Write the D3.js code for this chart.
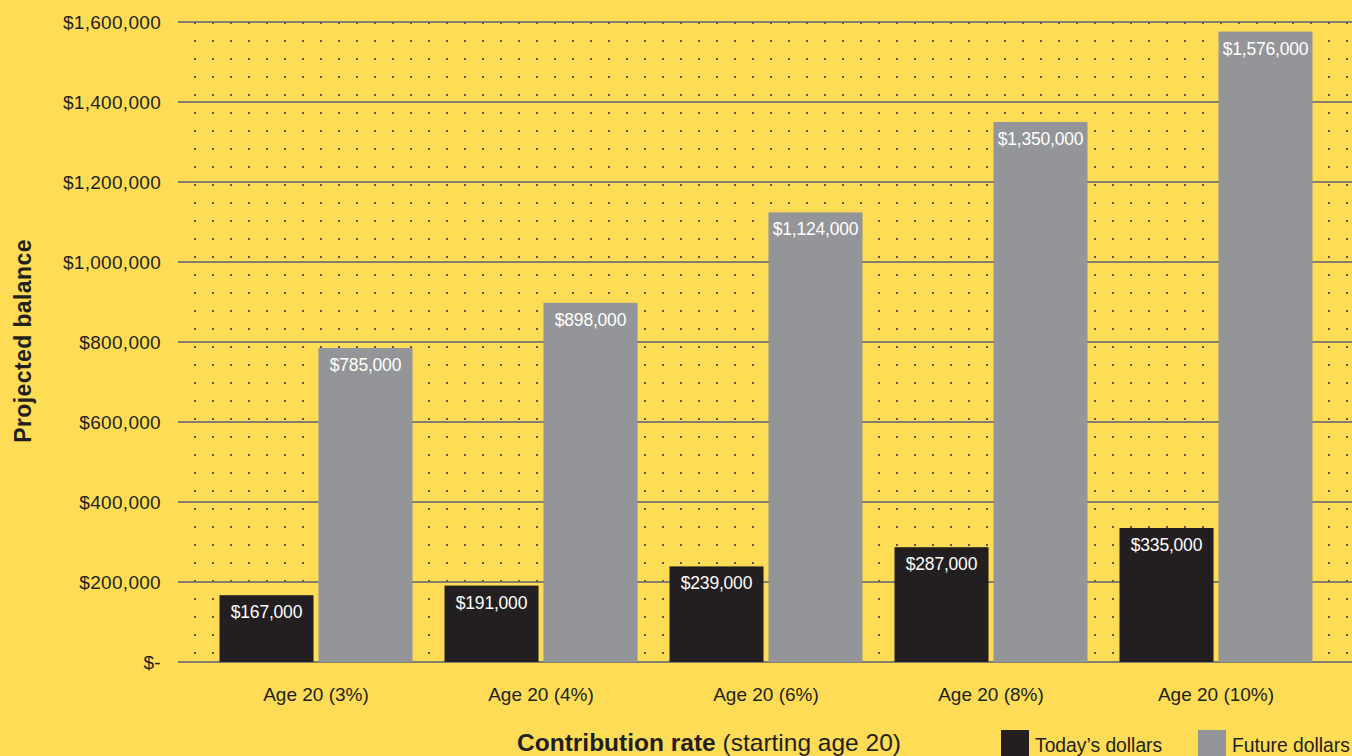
<!DOCTYPE html>
<html>
<head>
<meta charset="utf-8">
<script src="https://cdn.jsdelivr.net/npm/d3@7"></script>
<style>
  html, body { margin: 0; padding: 0; background: #FEDC55; }
  svg { display: block; font-family: "Liberation Sans", Arial, sans-serif; }
</style>
</head>
<body>
<svg id="chart" width="1352" height="756"></svg>
<script>
const categories = ["Age 20 (3%)", "Age 20 (4%)", "Age 20 (6%)", "Age 20 (8%)", "Age 20 (10%)"];
const seriesNames = ["Today\u2019s dollars", "Future dollars"];
const todaysDollars = [167000, 191000, 239000, 287000, 335000];
const futureDollars = [785000, 898000, 1124000, 1350000, 1576000];
const yTicks = [0, 200000, 400000, 600000, 800000, 1000000, 1200000, 1400000, 1600000];
const colors = ["#231F20", "#939598"];

const svg = d3.select("#chart");
const W = 1352, H = 756;
const plot = { left: 178, right: 1352, top: 22, bottom: 662 };

svg.append("rect").attr("width", W).attr("height", H).attr("fill", "#FEDC55");

// dotted background pattern
const defs = svg.append("defs");
const pat = defs.append("pattern")
  .attr("id", "dots").attr("patternUnits", "userSpaceOnUse")
  .attr("x", 176).attr("y", 22).attr("width", 18).attr("height", 18);
pat.append("rect").attr("x", 0).attr("y", 0).attr("width", 2).attr("height", 2).attr("fill", "#5e5846");
svg.append("rect")
  .attr("x", plot.left).attr("y", plot.top)
  .attr("width", plot.right - plot.left).attr("height", plot.bottom - plot.top)
  .attr("fill", "url(#dots)");

const y = d3.scaleLinear().domain([0, 1600000]).range([plot.bottom, plot.top]);
const x0 = d3.scaleBand().domain(categories).range([203.5, 1328.5]).paddingInner(0.1422).paddingOuter(0.0711);
const x1 = d3.scaleBand().domain(seriesNames).range([0, x0.bandwidth()]).paddingInner(0.05);

// gridlines
svg.append("g").selectAll("line").data(yTicks).join("line")
  .attr("x1", plot.left).attr("x2", plot.right)
  .attr("y1", d => y(d)).attr("y2", d => y(d))
  .attr("stroke", "#5b6275").attr("stroke-width", 1.6);

// y tick labels
const fmt = d => d === 0 ? "$-" : "$" + d3.format(",")(d);
svg.append("g").selectAll("text").data(yTicks).join("text")
  .attr("x", 161).attr("y", d => y(d) + 7)
  .attr("text-anchor", "end").attr("font-size", 19).attr("fill", "#231F20")
  .attr("letter-spacing", 0.3)
  .text(fmt);

// bars
const data = categories.map((c, i) => ({ cat: c, vals: [todaysDollars[i], futureDollars[i]] }));
const groups = svg.append("g").selectAll("g").data(data).join("g")
  .attr("transform", d => `translate(${x0(d.cat)},0)`);
const bars = groups.selectAll("g").data(d => d.vals.map((v, j) => ({ name: seriesNames[j], v, j }))).join("g");
bars.append("rect")
  .attr("x", d => x1(d.name)).attr("width", x1.bandwidth())
  .attr("y", d => y(d.v)).attr("height", d => y(0) - y(d.v))
  .attr("fill", d => colors[d.j]);
bars.append("text")
  .attr("x", d => x1(d.name) + x1.bandwidth() / 2)
  .attr("y", d => y(d.v) + 23)
  .attr("text-anchor", "middle").attr("font-size", 17.5).attr("fill", "#ffffff")
  .attr("letter-spacing", -0.2)
  .text(d => "$" + d3.format(",")(d.v));

// category labels
svg.append("g").selectAll("text").data(categories).join("text")
  .attr("x", d => x0(d) + x0.bandwidth() / 2).attr("y", 701)
  .attr("text-anchor", "middle").attr("font-size", 19).attr("fill", "#231F20")
  .text(d => d);

// y axis title
svg.append("text")
  .attr("transform", "translate(31,341) rotate(-90)")
  .attr("text-anchor", "middle").attr("font-size", 23).attr("font-weight", "bold").attr("fill", "#231F20")
  .attr("letter-spacing", 0.4)
  .text("Projected balance");

// x axis title
const xt = svg.append("text")
  .attr("x", 709).attr("y", 751)
  .attr("text-anchor", "middle").attr("font-size", 24.5).attr("fill", "#231F20");
xt.append("tspan").attr("font-weight", "bold").text("Contribution rate");
xt.append("tspan").text(" (starting age 20)");

// legend
const legendX = [1001, 1198];
const lg = svg.append("g").selectAll("g").data(seriesNames).join("g")
  .attr("transform", (d, i) => `translate(${legendX[i]},730)`);
lg.append("rect").attr("width", 28).attr("height", 28).attr("fill", (d, i) => colors[i]);
lg.append("text").attr("x", 34).attr("y", 22).attr("font-size", 19.3).attr("fill", "#231F20").text(d => d);
</script>
</body>
</html>
